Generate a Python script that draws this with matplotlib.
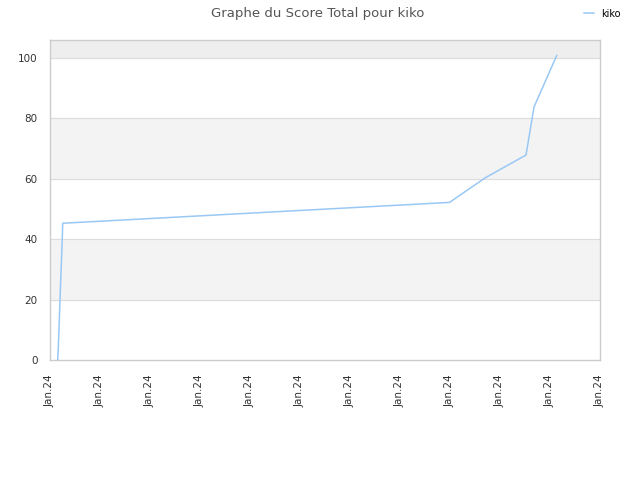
import pandas as pd
import matplotlib
matplotlib.use("Agg")
import matplotlib.pyplot as plt
import matplotlib.dates as mdates

dates = pd.to_datetime([
    "2024-01-01 07:24", "2024-01-01 08:00", "2024-01-01 08:56",
    "2024-01-01 09:53", "2024-01-01 10:51", "2024-01-01 11:48",
    "2024-01-01 12:12", "2024-01-16 23:31", "2024-01-18 09:36",
    "2024-01-20 00:58", "2024-01-20 08:38", "2024-01-21 06:29",
])
scores = [0, 4.4, 13.3, 22.7, 31.5, 40.4, 45.3, 52.2, 60.3, 67.9, 83.8, 100.9]
player = "kiko"

fig = plt.figure(figsize=(6.4, 4.8), dpi=100)
ax = fig.add_axes([50 / 640, 120 / 480, 550 / 640, 320 / 480])

ymax = 106
ax.set_ylim(0, ymax)
ax.set_xlim(pd.Timestamp("2024-01-01"), pd.Timestamp("2024-01-23"))

# alternating bands
ax.axhspan(20, 40, color="#f3f3f3", zorder=0)
ax.axhspan(60, 80, color="#f3f3f3", zorder=0)
ax.axhspan(100, ymax, color="#eeeeee", zorder=0)
for v in [20, 40, 60, 80, 100]:
    ax.axhline(v, color="#dddddd", lw=0.8, zorder=1)

ax.plot(dates, scores, color="#99c8f5", lw=1.1, label=player, zorder=3)

ax.set_yticks([0, 20, 40, 60, 80, 100])
ax.xaxis.set_major_locator(mdates.DayLocator(bymonthday=range(1, 32, 2)))
ax.xaxis.set_major_formatter(mdates.DateFormatter("%b.%y"))
ax.tick_params(axis="both", length=0, labelsize=7.5, colors="#333333")
ax.tick_params(axis="y", pad=9)
ax.tick_params(axis="x", pad=10, labelrotation=90)

for s in ax.spines.values():
    s.set_color("#cccccc")
    s.set_linewidth(1)

fig.suptitle("Graphe du Score Total pour " + player, x=0.497, y=0.985,
             fontsize=9.5, color="#555555")
fig.legend(loc="upper right", bbox_to_anchor=(0.984, 1.0), frameon=False,
           fontsize=7, handlelength=1.0, handletextpad=0.8)

fig.savefig("out.png", dpi=100)
